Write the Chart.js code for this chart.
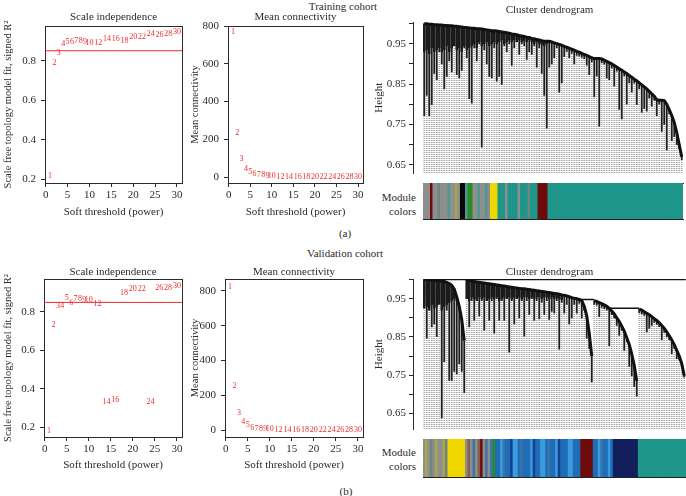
<!DOCTYPE html>
<html>
<head>
<meta charset="utf-8">
<script src="https://cdn.jsdelivr.net/npm/chart.js@4.4.1/dist/chart.umd.min.js"></script>
<style>
  body { margin: 0; background: #fff; }
  #fig { position: relative; width: 686px; height: 496px; background: #fff; overflow: hidden;
         font-family: 'Liberation Serif', 'DejaVu Serif', serif; color: #2b2b2b; }
  #fig canvas { position: absolute; }
  .lbl { position: absolute; font-size: 11px; white-space: nowrap; transform: translate(-50%, -50%); }
  .mod { position: absolute; right: 270px; font-size: 11px; line-height: 14px; text-align: right; }
</style>
</head>
<body>
<div id="fig">
  <div class="lbl" style="left:343px;top:6px">Training cohort</div>
  <div class="lbl" style="left:345px;top:233px">(a)</div>
  <div class="lbl" style="left:345px;top:253px">Validation cohort</div>
  <div class="lbl" style="left:346px;top:491px">(b)</div>
  <div class="mod" style="top:190px">Module<br>colors</div>
  <div class="mod" style="top:445px">Module<br>colors</div>

  <canvas id="si1" width="186" height="222" style="left:0;top:0"></canvas>
  <canvas id="mc1" width="180" height="222" style="left:186px;top:0"></canvas>
  <canvas id="dg1" width="320" height="183" style="left:366px;top:0"></canvas>
  <canvas id="cb1" width="320" height="37" style="left:366px;top:183px"></canvas>

  <canvas id="si2" width="186" height="225" style="left:0;top:250px"></canvas>
  <canvas id="mc2" width="180" height="225" style="left:186px;top:250px"></canvas>
  <canvas id="dg2" width="320" height="189" style="left:366px;top:250px"></canvas>
  <canvas id="cb2" width="320" height="39" style="left:366px;top:439px"></canvas>
</div>
<script>
// soft-threshold powers tested
const powers = [1, 2, 3, 4, 5, 6, 7, 8, 9, 10, 12, 14, 16, 18, 20, 22, 24, 26, 28, 30];

// training cohort
const trainR2 = [0.217, 0.79, 0.839, 0.884, 0.897, 0.897, 0.898, 0.898, 0.895, 0.892,
                 0.892, 0.909, 0.909, 0.902, 0.922, 0.922, 0.935, 0.928, 0.935, 0.946];
const trainK = [768, 233, 96, 46, 28, 19, 11, 10, 7, 6,
                2.5, 2, 1.6, 1.4, 1.2, 1.1, 1, 0.9, 0.8, 0.7];

// validation cohort
const validR2 = [0.18, 0.732, 0.83, 0.832, 0.871, 0.849, 0.866, 0.866, 0.862, 0.862,
                 0.842, 0.329, 0.341, 0.898, 0.92, 0.92, 0.329, 0.927, 0.927, 0.937];
const validK = [823, 253, 98, 48, 27, 15, 9, 6, 5, 4,
                2.5, 2, 1.6, 1.4, 1.2, 1.1, 1, 0.9, 0.8, 0.7];

const r2Cutoff = 0.85;
const powerTicks = [0, 5, 10, 15, 20, 25, 30];
const r2Ticks = [0.2, 0.4, 0.6, 0.8];
const kTicks = [0, 200, 400, 600, 800];
const heightTicks = [0.65, 0.7, 0.75, 0.8, 0.85, 0.9, 0.95, 1.0];
const heightLabels = [0.65, 0.75, 0.85, 0.95];

// dendrogram leaves: merge height (top) and leaf height (bottom), left to right
const trainTop = [0.999, 0.999, 0.998, 0.998, 0.997, 0.997, 0.996, 0.996, 0.995, 0.995,
  0.994, 0.994, 0.993, 0.993, 0.992, 0.991, 0.990, 0.990, 0.989, 0.988,
  0.988, 0.987, 0.987, 0.986, 0.985, 0.984, 0.983, 0.982, 0.982, 0.981,
  0.980, 0.979, 0.978, 0.977, 0.976, 0.974, 0.973, 0.972, 0.970, 0.969,
  0.968, 0.966, 0.965, 0.963, 0.962, 0.960, 0.959, 0.957, 0.956, 0.956,
  0.956, 0.954, 0.952, 0.950, 0.948, 0.946, 0.943, 0.941, 0.939, 0.936,
  0.934, 0.931, 0.929, 0.926, 0.923, 0.921, 0.918, 0.915, 0.913, 0.913,
  0.913, 0.912, 0.909, 0.906, 0.903, 0.900, 0.896, 0.892, 0.888, 0.884,
  0.880, 0.876, 0.871, 0.867, 0.862, 0.858, 0.853, 0.848, 0.843, 0.838,
  0.832, 0.826, 0.820, 0.811, 0.810, 0.810, 0.809, 0.800, 0.787, 0.772,
  0.755, 0.730, 0.700, 0.670];
const trainLeaf = [0.772, 0.822, 0.772, 0.799, 0.876, 0.861, 0.930, 0.900, 0.838, 0.869,
  0.907, 0.880, 0.945, 0.873, 0.865, 0.884, 0.940, 0.915, 0.814, 0.803,
  0.940, 0.907, 0.950, 0.694, 0.935, 0.900, 0.869, 0.865, 0.940, 0.857,
  0.869, 0.849, 0.945, 0.930, 0.950, 0.896, 0.940, 0.955, 0.923, 0.950,
  0.945, 0.911, 0.930, 0.923, 0.945, 0.892, 0.940, 0.876, 0.822, 0.741,
  0.892, 0.900, 0.915, 0.940, 0.830, 0.853, 0.918, 0.931, 0.915, 0.926,
  0.900, 0.921, 0.919, 0.916, 0.913, 0.897, 0.873, 0.905, 0.818, 0.870,
  0.745, 0.902, 0.899, 0.865, 0.861, 0.890, 0.845, 0.882, 0.787, 0.764,
  0.870, 0.800, 0.853, 0.830, 0.852, 0.799, 0.838, 0.780, 0.790, 0.783,
  0.816, 0.795, 0.810, 0.772, 0.800, 0.733, 0.750, 0.687, 0.777, 0.710,
  0.720, 0.700, 0.690, 0.663];
// lower edge of the dense, tightly merged block at the left
const trainCore = [0.930, 0.935, 0.925, 0.940, 0.930, 0.935, 0.940, 0.930, 0.935, 0.945,
  0.930, 0.940, 0.945, 0.935, 0.940, 0.930, 0.945, 0.935, 0.940, 0.945,
  0.950, 0.940, 0.955, 0.945, 0.950, 0.955, 0.945, 0.950, 0.955, 0.950,
  0.955, 0.960, 0.950, 0.955, 0.960, 0.955, 0.960, 0.955, 0.960, 0.955,
  0.958, 0.955, 0.960, 0.955, 0.950, 0.955, 0.950, 0.948, 0.945, 0.950];
const trainStarts = [];
const trainMerges = [];
const trainModules = [['grey', 3], ['darkred', 1], ['grey', 2], ['slate', 1], ['grey', 3], ['teal', 1],
  ['grey', 2], ['olive', 1], ['grey', 1], ['black', 2], ['teal', 1], ['green', 2],
  ['grey', 2], ['teal', 1], ['grey', 2], ['teal', 1], ['grey', 1], ['yellow', 3],
  ['turquoise', 3], ['grey', 1], ['turquoise', 4], ['grey', 1], ['turquoise', 3], ['slate', 1],
  ['turquoise', 3], ['darkred', 4], ['turquoise', 54]];

const validTop = [1.000, 1.000, 0.999, 0.999, 0.998, 0.998, 0.997, 0.996, 0.995, 0.993,
  0.990, 0.985, 0.975, 0.955, 0.930, 0.895, 0.840,
  0.998, 0.997, 0.996, 0.995, 0.994, 0.993, 0.992, 0.991, 0.990, 0.989,
  0.988, 0.987, 0.986, 0.985, 0.984, 0.983, 0.982, 0.981, 0.980, 0.979,
  0.978, 0.977, 0.976, 0.976, 0.975, 0.974, 0.973, 0.972, 0.971, 0.970,
  0.969, 0.968, 0.967, 0.966, 0.965, 0.964, 0.963, 0.962, 0.960, 0.959,
  0.957, 0.955, 0.953, 0.951, 0.950,
  0.948, 0.945, 0.930, 0.905, 0.860, 0.800,
  0.945, 0.943, 0.940, 0.937, 0.934, 0.930, 0.925, 0.918, 0.910, 0.900,
  0.890, 0.878, 0.865, 0.848, 0.830, 0.805, 0.775, 0.735,
  0.923, 0.920, 0.916, 0.912, 0.908, 0.903, 0.898, 0.893, 0.887, 0.880,
  0.872, 0.863, 0.853, 0.842, 0.830, 0.815, 0.800, 0.780, 0.748];
const validLeaf = [0.960, 0.847, 0.930, 0.876, 0.884, 0.851, 0.940, 0.638, 0.785, 0.920,
  0.736, 0.736, 0.760, 0.753, 0.780, 0.760, 0.704,
  0.950, 0.876, 0.945, 0.893, 0.950, 0.905, 0.945, 0.868, 0.950, 0.893,
  0.945, 0.860, 0.950, 0.893, 0.945, 0.893, 0.950, 0.810, 0.945, 0.884,
  0.950, 0.900, 0.945, 0.852, 0.945, 0.909, 0.950, 0.893, 0.945, 0.897,
  0.940, 0.909, 0.945, 0.896, 0.917, 0.912, 0.945, 0.818, 0.940, 0.912,
  0.935, 0.884, 0.900, 0.935, 0.912,
  0.938, 0.900, 0.920, 0.847, 0.820, 0.732,
  0.935, 0.933, 0.903, 0.927, 0.924, 0.920, 0.827, 0.908, 0.900, 0.880,
  0.854, 0.868, 0.815, 0.838, 0.773, 0.748, 0.720, 0.695,
  0.913, 0.910, 0.906, 0.863, 0.872, 0.880, 0.888, 0.883, 0.877, 0.843,
  0.862, 0.850, 0.843, 0.806, 0.820, 0.793, 0.790, 0.773, 0.745];
const validCore = [0.925, 0.930, 0.920, 0.935, 0.925, 0.930, 0.935, 0.920, 0.930, 0.935,
  0.940, 0.945, 0.950, 0.945, null, null, null,
  0.950, 0.945, 0.955, 0.950, 0.945, 0.955, 0.950, 0.955, 0.945, 0.950,
  0.955, 0.950, 0.955, 0.945, 0.950, 0.955, 0.950, 0.955, 0.950, 0.955,
  0.950, 0.955, 0.950, 0.955, 0.955, 0.950, 0.955, 0.950, 0.955, 0.955,
  0.950, 0.955, 0.955, 0.950, 0.955, 0.950, 0.952, 0.950, 0.948];
const validStarts = [17, 68, 86];
const validMerges = [[0, 104.6, 1.0], [62, 68, 0.948], [74, 86, 0.925]];
const validModules = [['grey', 1], ['olive', 1], ['grey', 1], ['slate', 1], ['grey', 1], ['olive', 1],
  ['grey', 2], ['olive', 1], ['slate', 1], ['yellow', 7],
  ['grey', 1], ['brown', 1], ['grey', 1], ['steel', 1], ['grey', 1], ['brown', 1], ['darkred', 1],
  ['grey', 1], ['steel', 1], ['grey', 1], ['steel', 1], ['green', 1],
  ['blue', 2], ['lightblue', 1], ['steel', 1], ['blue', 2], ['navy', 1], ['lightblue', 2], ['blue', 1],
  ['steel', 1], ['blue', 3], ['lightblue', 1], ['navy', 1], ['blue', 2], ['lightblue', 2], ['blue', 1],
  ['steel', 1], ['blue', 2], ['lightblue', 1], ['navy', 1], ['blue', 3], ['lightblue', 2], ['blue', 3],
  ['darkred', 5],
  ['blue', 2], ['lightblue', 1], ['steel', 1], ['blue', 2], ['lightblue', 1], ['blue', 1],
  ['midnight', 10], ['turquoise', 19]];

const modulePalette = {
  grey: '#8e8e8e', slate: '#6f8584', teal: '#4f9a90', turquoise: '#1f968a', olive: '#a7a64a',
  black: '#0a0a0a', green: '#2c8b26', yellow: '#f0d700', darkred: '#6e0c0c', brown: '#8b5d4d',
  blue: '#1f6db6', lightblue: '#3b9ae0', steel: '#3b74a6', navy: '#18408e', midnight: '#121f5c'
};

const SERIF = "'Liberation Serif', 'DejaVu Serif', serif";
const INK = '#2b2b2b';
const RED = '#ee2b2b';
const powerRange = [-0.16, 31.16];
const leafRange = [-4.5, 104.7];

Chart.defaults.font.family = SERIF;
Chart.defaults.color = INK;

// write the power number at each point, like R's text()
const powerLabels = {
  id: 'powerLabels',
  afterDatasetsDraw(chart) {
    const ctx = chart.ctx;
    ctx.save();
    ctx.font = '8px ' + SERIF;
    ctx.fillStyle = RED;
    ctx.textAlign = 'center';
    ctx.textBaseline = 'middle';
    chart.data.datasets.forEach((ds, di) => {
      if (!ds.labelled) return;
      chart.getDatasetMeta(di).data.forEach((pt, i) => ctx.fillText(String(powers[i]), pt.x, pt.y));
    });
    ctx.restore();
  }
};

function titleOpts(text, pad) {
  return { display: true, text: text, fullSize: false, color: INK,
           font: { family: SERIF, size: 11, weight: 'normal' }, padding: { top: pad[0], bottom: pad[1] } };
}

// bare axis that only draws its line (closes the box round a panel)
function edgeAxis(position) {
  const horiz = position === 'top' || position === 'bottom';
  return {
    type: 'linear', position: position, display: true,
    ticks: { display: false }, grid: { display: false }, border: { color: INK },
    afterFit: s => { if (horiz) s.height = 0; else s.width = 0; }
  };
}

function powerPlot(id, values, cfg) {
  const datasets = [];
  if (cfg.cutoff != null) {
    datasets.push({ data: [{ x: powerRange[0], y: cfg.cutoff }, { x: powerRange[1], y: cfg.cutoff }],
      showLine: true, borderColor: RED, borderWidth: 1, pointRadius: 0 });
  }
  datasets.push({ data: powers.map((p, i) => ({ x: p, y: values[i] })), pointRadius: 0, labelled: true });

  new Chart(document.getElementById(id), {
    type: 'scatter',
    data: { datasets: datasets },
    plugins: [powerLabels],
    options: {
      responsive: false, animation: false, events: [],
      layout: { padding: { left: 0, right: cfg.padRight, top: 0, bottom: 0 } },
      plugins: { legend: { display: false }, tooltip: { enabled: false }, title: titleOpts(cfg.title, cfg.titlePad) },
      scales: {
        x: {
          type: 'linear', min: powerRange[0], max: powerRange[1],
          afterBuildTicks: s => { s.ticks = powerTicks.map(v => ({ value: v })); },
          afterFit: s => { s.height = cfg.xHeight; },
          ticks: { font: { size: 11 }, padding: 2, maxRotation: 0, autoSkip: false },
          grid: { drawOnChartArea: false, tickLength: 4, color: INK },
          border: { color: INK },
          title: { display: true, text: 'Soft threshold (power)', font: { size: 11 }, padding: { top: 0, bottom: cfg.xTitlePad } }
        },
        y: {
          min: cfg.yMin, max: cfg.yMax,
          afterBuildTicks: s => { s.ticks = cfg.yTicks.map(v => ({ value: v })); },
          afterFit: s => { s.width = cfg.yWidth; },
          ticks: { font: { size: 11 }, padding: 5, autoSkip: false, callback: v => String(v) },
          grid: { drawOnChartArea: false, tickLength: 4, color: INK },
          border: { color: INK },
          title: { display: true, text: cfg.yTitle, font: { size: 10.5 }, padding: { top: cfg.yTitlePad, bottom: 0 } }
        },
        xTop: edgeAxis('top'),
        yRight: edgeAxis('right')
      }
    }
  });
}

function dotPattern() {
  const c = document.createElement('canvas');
  c.width = 1; c.height = 2;
  const g = c.getContext('2d');
  g.fillStyle = '#a6a6a6';
  g.fillRect(0, 0, 1, 1);
  return g.createPattern(c, 'repeat');
}

function dendroPlot(id, tops, leaves, core, cfg) {
  const idx = tops.map((_, i) => i);
  const datasets = [
    { type: 'line', data: idx.map(i => ({ x: i, y: tops[i] })), borderColor: '#111', borderWidth: 3,
      pointRadius: 0, tension: 0, order: 0,
      segment: { borderColor: c => cfg.starts.includes(c.p1DataIndex) ? 'rgba(0,0,0,0)' : '#111' } }
  ];
  cfg.merges.forEach(m => datasets.push({ type: 'line', data: [{ x: m[0], y: m[2] }, { x: m[1], y: m[2] }],
    borderColor: '#111', borderWidth: 1.3, pointRadius: 0, order: 1 }));
  datasets.push(
    { type: 'bar', data: core.map((v, i) => v == null ? null : ({ x: i, y: [v, tops[i]] })).filter(d => d),
      backgroundColor: '#1b1b1b', barThickness: 1.8, grouped: false, order: 2 },
    { type: 'bar', data: idx.map(i => ({ x: i, y: [leaves[i], tops[i]] })),
      backgroundColor: '#1e1e1e', barThickness: 1.2, grouped: false, order: 3 },
    { type: 'bar', data: idx.map(i => ({ x: i, y: [cfg.yMin, leaves[i]] })),
      backgroundColor: dotPattern(), barThickness: 1, grouped: false, order: 4 }
  );

  new Chart(document.getElementById(id), {
    type: 'bar',
    data: { datasets: datasets },
    options: {
      responsive: false, animation: false, events: [],
      layout: { padding: 0 },
      plugins: { legend: { display: false }, tooltip: { enabled: false }, title: titleOpts('Cluster dendrogram', cfg.titlePad) },
      scales: {
        x: { type: 'linear', display: false, offset: false, min: leafRange[0], max: leafRange[1] },
        y: {
          min: cfg.yMin, max: cfg.yMax, beginAtZero: false,
          afterBuildTicks: s => { s.ticks = heightTicks.map(v => ({ value: v })); },
          afterFit: s => { s.width = 47; },
          ticks: { font: { size: 11 }, padding: 3, autoSkip: false,
                   callback: v => heightLabels.includes(v) ? v.toFixed(2) : '' },
          grid: { drawOnChartArea: false, tickLength: 4, color: INK },
          border: { color: INK },
          title: { display: true, text: 'Height', font: { size: 11 }, padding: { top: 6.4, bottom: 0 } }
        }
      }
    }
  });
}

function moduleBar(id, runs, padRight) {
  const cols = [];
  runs.forEach(([k, n]) => { for (let j = 0; j < n; j++) cols.push(modulePalette[k]); });
  new Chart(document.getElementById(id), {
    type: 'bar',
    data: {
      datasets: [{ data: cols.map((c, i) => ({ x: i, y: 1 })), backgroundColor: cols,
                   barThickness: 2.9, grouped: false }]
    },
    options: {
      responsive: false, animation: false, events: [],
      layout: { padding: { left: 57, right: padRight, top: 0, bottom: 1 } },
      plugins: { legend: { display: false }, tooltip: { enabled: false } },
      scales: {
        x: { type: 'linear', min: -0.5, max: cols.length - 0.5, offset: false, display: true,
             ticks: { display: false }, grid: { display: false }, border: { color: '#222' },
             afterFit: s => { s.height = 0; } },
        xTop: edgeAxis('top'),
        y: { min: 0, max: 1, display: false }
      }
    }
  });
}

// (a) training cohort
powerPlot('si1', trainR2, { cutoff: r2Cutoff, title: 'Scale independence', titlePad: [10.4, 2.4],
  yMin: 0.182, yMax: 0.975, yTicks: r2Ticks, yWidth: 45, padRight: 4, xHeight: 39, xTitlePad: 3.4,
  yTitle: 'Scale free topology model fit, signed R\u00B2', yTitlePad: 2 });
powerPlot('mc1', trainK, { title: 'Mean connectivity', titlePad: [10.4, 2.4],
  yMin: -31, yMax: 800, yTicks: kTicks, yWidth: 42, padRight: 3, xHeight: 39, xTitlePad: 3.4,
  yTitle: 'Mean connectivity', yTitlePad: 3 });
dendroPlot('dg1', trainTop, trainLeaf, trainCore, { yMin: 0.629, yMax: 1.0035, titlePad: [3.4, 5.4],
  starts: trainStarts, merges: trainMerges });
moduleBar('cb1', trainModules, 3);

// (b) validation cohort
powerPlot('si2', validR2, { cutoff: r2Cutoff, title: 'Scale independence', titlePad: [15.4, 0.4],
  yMin: 0.148, yMax: 0.972, yTicks: r2Ticks, yWidth: 44, padRight: 4, xHeight: 38, xTitlePad: 3.4,
  yTitle: 'Scale free topology model fit, signed R\u00B2', yTitlePad: 2 });
powerPlot('mc2', validK, { title: 'Mean connectivity', titlePad: [15.4, 0.4],
  yMin: -40, yMax: 868, yTicks: kTicks, yWidth: 39, padRight: 3, xHeight: 38, xTitlePad: 3.4,
  yTitle: 'Mean connectivity', yTitlePad: 3 });
dendroPlot('dg2', validTop, validLeaf, validCore, { yMin: 0.608, yMax: 1.0016, titlePad: [15.4, 0.4],
  starts: validStarts, merges: validMerges });
moduleBar('cb2', validModules, 0);
</script>
</body>
</html>
